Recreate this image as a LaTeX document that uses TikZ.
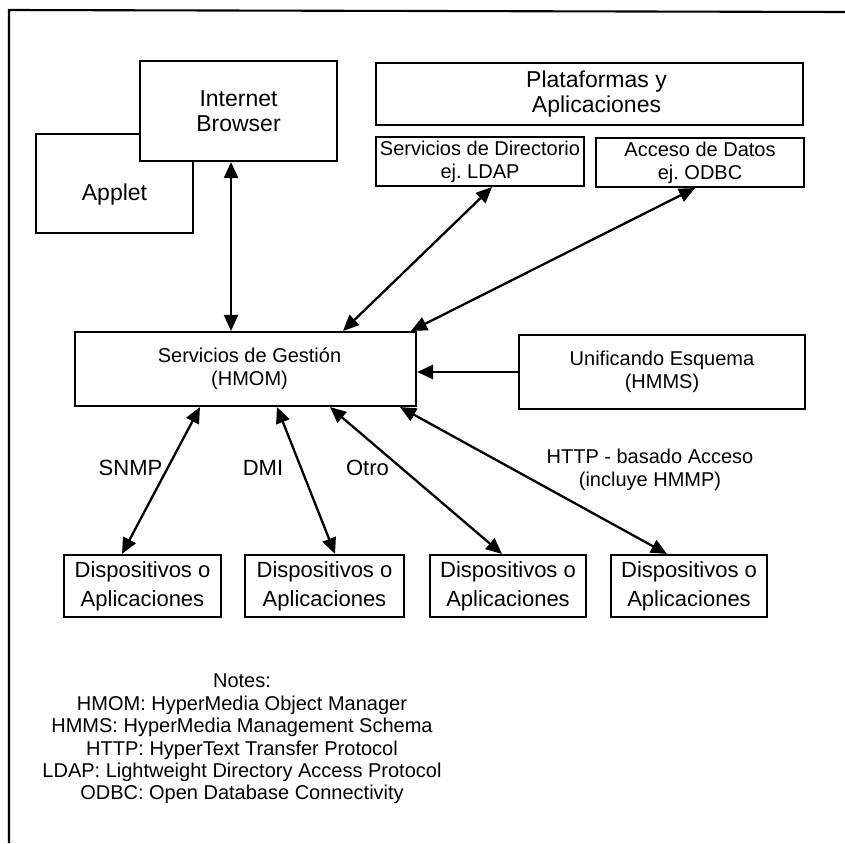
\documentclass[tikz,border=0pt]{standalone}
\usepackage{fontspec}
\setmainfont{Liberation Sans}
\usetikzlibrary{arrows.meta}
\frenchspacing

\begin{document}
\begin{tikzpicture}[x=1pt,y=-1pt,
  box/.style={draw, line width=2.1pt, inner sep=0pt, align=center, fill=white},
  bigtext/.style={font=\fontsize{23pt}{25.5pt}\selectfont},
  midtext/.style={font=\fontsize{20pt}{23pt}\selectfont},
  devtext/.style={font=\fontsize{22pt}{29pt}\selectfont},
  notetext/.style={font=\fontsize{20pt}{22.4pt}\selectfont, align=center},
  tip/.tip={Triangle[length=16pt,width=14pt]},
  link/.style={line width=2.3pt, tip-tip},
  feed/.style={line width=2.1pt, -tip},
  frame/.style={line width=2.1pt}]

\useasboundingbox (0,0) rectangle (845,843);

% outer frame (top and left edges)
\coordinate (ftop) at (9,10);
\coordinate (fright) at (845,12);
\coordinate (fbottom) at (9,843);
\draw[frame] (fbottom) -- (ftop) -- (fright);

% client side
\node[box, minimum width=157pt, minimum height=99pt] (applet) at (114.5,183.5) {};
\node[bigtext] (appletlabel) at (114.5,195) {Applet};
\node[box, bigtext, minimum width=197pt, minimum height=100pt] (browser) at (238.5,111) {Internet\\Browser};

% platforms and applications
\node[box, bigtext, minimum width=427pt, minimum height=62pt] (plat) at (589.5,94) {\hspace*{14pt}Plataformas y\\\hspace*{14pt}Aplicaciones};
\node[box, midtext, minimum width=208pt, minimum height=49pt] (dir) at (480,161.5) {Servicios de Directorio\\ej. LDAP};
\node[box, midtext, minimum width=208pt, minimum height=49pt] (acc) at (700,162.5) {Acceso de Datos\\ej. ODBC};

% management services and schema
\node[box, midtext, minimum width=341pt, minimum height=74pt] (gest) at (245.5,369) {\hspace*{8pt}Servicios de Gestión\\\hspace*{8pt}(HMOM)};
\node[box, midtext, minimum width=286pt, minimum height=74pt] (unif) at (662,372) {Unificando Esquema\\(HMMS)};

% devices
\node[box, devtext, minimum width=157pt, minimum height=62pt] (dev1) at (142.5,586) {Dispositivos o\\Aplicaciones};
\node[box, devtext, minimum width=159pt, minimum height=62pt] (dev2) at (324.5,586) {Dispositivos o\\Aplicaciones};
\node[box, devtext, minimum width=156pt, minimum height=62pt] (dev3) at (508,586) {Dispositivos o\\Aplicaciones};
\node[box, devtext, minimum width=156pt, minimum height=62pt] (dev4) at (689,586) {Dispositivos o\\Aplicaciones};

% connectors
\draw[link] ([xshift=-7.5pt]browser.south) -- ([xshift=-14.5pt]gest.north);
\draw[link] ([xshift=97.5pt]gest.north) -- ([xshift=12pt]dir.south);
\draw[link] ([xshift=165.5pt]gest.north) -- ([xshift=-5pt]acc.south);
\draw[feed] (unif.west) -- (unif.west -| gest.east);
\draw[link] ([xshift=-45.5pt]gest.south) -- ([xshift=-20.5pt]dev1.north);
\draw[link] ([xshift=31.5pt]gest.south) -- ([xshift=10.5pt]dev2.north);
\draw[link] ([xshift=84.5pt]gest.south) -- ([xshift=-6pt]dev3.north);
\draw[link] ([xshift=154.5pt]gest.south) -- ([xshift=-22pt]dev4.north);

% protocol labels
\node[devtext] (snmp) at (130.5,468) {SNMP};
\node[devtext] (dmi) at (263,468) {DMI};
\node[devtext] (otro) at (367.5,468) {Otro};
\node[midtext, align=center] (http) at (650,470) {HTTP - basado Acceso\\(incluye HMMP)};

% notes
\node[notetext] (notes) at (242,739) {Notes:\\HMOM: HyperMedia Object Manager\\HMMS: HyperMedia Management Schema\\HTTP: HyperText Transfer Protocol\\LDAP: Lightweight Directory Access Protocol\\ODBC: Open Database Connectivity};
\end{tikzpicture}
\end{document}
